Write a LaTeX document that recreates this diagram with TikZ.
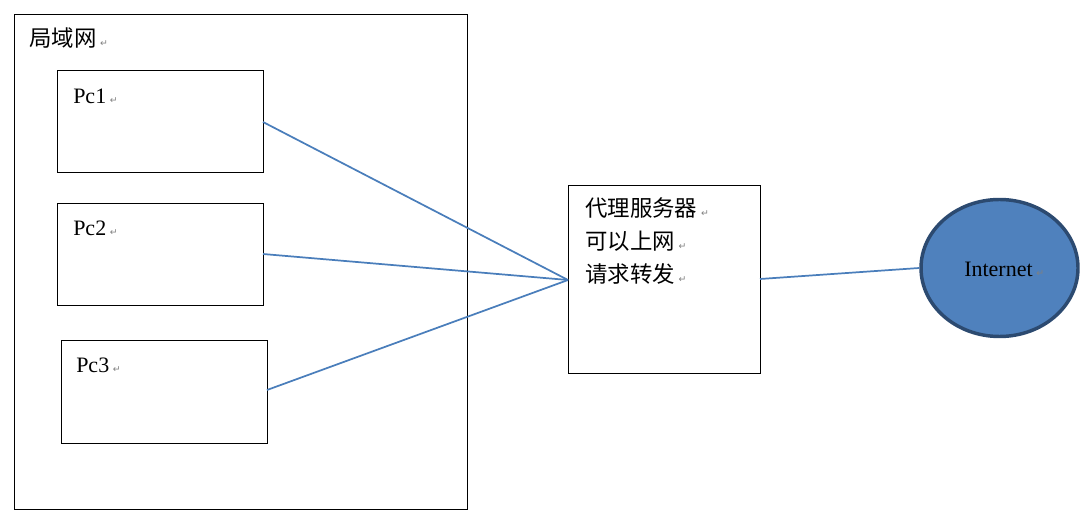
\documentclass[tikz,border=0pt]{standalone}
\usepackage{fontspec}
\setmainfont{Liberation Serif}
\newfontfamily\cjk{Noto Sans CJK SC}
\newfontfamily\symf{DejaVu Sans}
\usetikzlibrary{shapes.geometric}
\definecolor{linkblue}{HTML}{4A7EBB}
\definecolor{ellfill}{HTML}{4F81BD}
\definecolor{ellline}{HTML}{2C4A70}
\newcommand\retmark{\,{\symf\fontsize{7}{7}\selectfont\color{gray}↵}}
\begin{document}
\begin{tikzpicture}[x=0.75pt,y=-0.75pt,
  box/.style={draw=black,line width=0.75pt},
  link/.style={draw=linkblue,line width=1.3pt},
  cjktext/.style={inner sep=0pt,anchor=base west,font=\cjk\fontsize{16.8}{17}\selectfont},
  serif/.style={inner sep=0pt,anchor=base west,font=\fontsize{16.5}{17}\selectfont}]
\useasboundingbox (0,0) rectangle (1085,516);
\draw[box] (14,15) rectangle (467,509);
\node[cjktext] (lan) at (29,47) {局域网\retmark};
\draw[box] (57,71) rectangle (263,173);
\draw[box] (57,204) rectangle (263,306);
\draw[box] (61,341) rectangle (267,443);
\node[serif] (t1) at (73,104) {Pc1\retmark};
\node[serif] (t2) at (73,236) {Pc2\retmark};
\node[serif] (t3) at (76,373) {Pc3\retmark};
\coordinate (p1) at (263,122);
\coordinate (p2) at (263,254);
\coordinate (p3) at (267,390);
\draw[box] (568,186) rectangle (760,374);
\coordinate (pin) at (568,280);
\coordinate (pout) at (760,279);
\node[cjktext] (l1) at (585,217) {代理服务器\retmark};
\node[cjktext] (l2) at (585,250) {可以上网\retmark};
\node[cjktext] (l3) at (585,283) {请求转发\retmark};
\node[ellipse,draw=ellline,fill=ellfill,line width=2.6pt,minimum width=117.75pt,minimum height=102.75pt,inner sep=0pt] (inet) at (999.5,268) {};
\node[serif] (it) at (964,277) {Internet\retmark};
\draw[link] (p1) -- (pin);
\draw[link] (p2) -- (pin);
\draw[link] (p3) -- (pin);
\draw[link] (pout) -- (inet.west);
\end{tikzpicture}
\end{document}
